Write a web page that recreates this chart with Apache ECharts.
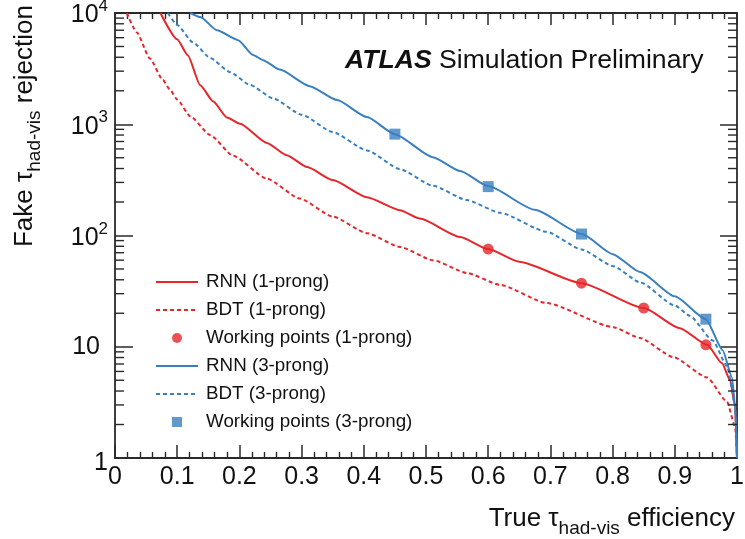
<!DOCTYPE html>
<html><head><meta charset="utf-8">
<script src="https://cdn.jsdelivr.net/npm/echarts/dist/echarts.min.js"></script>
<style>html,body{margin:0;padding:0;background:#fff}#c{width:745px;height:539px}</style>
</head><body><div id="c"></div>
<script>
// ---------------- data ----------------
const xTickLabels = ['0','0.1','0.2','0.3','0.4','0.5','0.6','0.7','0.8','0.9','1'];
const yTickBases = ['1','10','10','10','10'];
const yTickExps  = ['','','2','3','4'];

const effRNN1 = [0.073,0.100,0.117,0.137,0.158,0.180,0.201,0.244,0.276,0.309,0.350,0.405,0.458,0.490,0.555,0.600,0.650,0.750,0.850,0.908,0.952,0.976,0.989,0.997,1.000];
const rejRNN1 = [10000,5800,4170,2240,1600,1150,1010,680,527,412,315,221,169,142,97,75.5,58,37.3,22.3,14.7,10.4,7.1,5.0,2.9,1];

const effBDT1 = [0.019,0.035,0.056,0.077,0.088,0.100,0.121,0.153,0.190,0.244,0.297,0.350,0.405,0.458,0.511,0.566,0.619,0.694,0.801,0.844,0.897,0.952,0.984,0.997,1.000];
const rejBDT1 = [10000,6700,3900,2500,2060,1670,1180,800,520,325,215,148,105,79,60,46,36,24.7,15,12,8.1,5.3,3.2,1.9,1];

const effRNN3 = [0.121,0.137,0.164,0.198,0.222,0.238,0.265,0.313,0.357,0.405,0.450,0.511,0.555,0.600,0.675,0.751,0.800,0.844,0.900,0.950,0.977,0.992,0.997,1.000];
const rejRNN3 = [10000,9200,7000,5700,4200,3770,3100,2200,1650,1160,815,506,380,278,170,103,68,47,28.4,17.7,9.3,5.3,2.9,1];

const effBDT3 = [0.085,0.100,0.125,0.153,0.185,0.217,0.254,0.300,0.350,0.405,0.458,0.511,0.566,0.619,0.694,0.750,0.801,0.844,0.900,0.924,0.961,0.984,0.997,1.000];
const rejBDT3 = [10000,7800,5460,3950,2940,2260,1710,1220,850,582,395,280,208,160,108,75,53,38,23.5,19,11.4,6.7,3.0,1];

const wpEff1 = [0.60,0.75,0.85,0.95];
const wpRej1 = [75.5,37.3,22.3,10.4];
const wpEff3 = [0.45,0.60,0.75,0.95];
const wpRej3 = [815,275,103,17.7];

const seriesNames = ['RNN (1-prong)','BDT (1-prong)','Working points (1-prong)','RNN (3-prong)','BDT (3-prong)','Working points (3-prong)'];

// ---------------- chart ----------------
const RED = '#e5262b', BLUE = '#3a80c0', AX = '#2a2a2a';
const FONT = 'Liberation Sans, Arial, Helvetica, sans-serif';
const zip = (a, b) => a.map((v, i) => [v, b[i]]);

const yMinor = [];
for (let k = 0; k < 4; k++) for (let m = 2; m <= 9; m++) yMinor.push([0, m * Math.pow(10, k)]);

const chart = echarts.init(document.getElementById('c'), null, {renderer: 'canvas'});

const xCommon = {
  type: 'value', min: 0, max: 1, interval: 0.1,
  axisLine: {show: true, onZero: false, lineStyle: {color: AX, width: 1.8}},
  minorTick: {show: true, splitNumber: 5, length: 6, lineStyle: {color: AX, width: 1.4}},
  splitLine: {show: false}, minorSplitLine: {show: false}
};
const yCommon = {
  type: 'log', logBase: 10, min: 1, max: 10000, splitNumber: 4,
  axisLine: {show: true, onZero: false, lineStyle: {color: AX, width: 1.8}},
  splitLine: {show: false}
};

const titleRich = {
  a: {fontSize: 26, lineHeight: 40, verticalAlign: 'top', fontFamily: FONT, fill: '#111', padding: [8, 0, 0, 0]},
  s: {fontSize: 19, lineHeight: 19, verticalAlign: 'bottom', fontFamily: FONT, fill: '#111'}
};

chart.setOption({
  animation: false,
  backgroundColor: '#fff',
  grid: {left: 115, right: 8, top: 13, bottom: 81, containLabel: false, outerBoundsMode: 'none'},
  xAxis: [
    Object.assign({}, xCommon, {
      position: 'bottom',
      axisTick: {show: true, inside: true, length: 13, lineStyle: {color: AX, width: 1.5}},
      axisLabel: {show: true, margin: 7, fontSize: 25, color: '#111', fontFamily: FONT,
        showMinLabel: true, showMaxLabel: true,
        formatter: v => xTickLabels[Math.round(v * 10)]}
    }),
    Object.assign({}, xCommon, {
      position: 'top',
      axisTick: {show: true, inside: true, length: 12, lineStyle: {color: AX, width: 1.5}},
      axisLabel: {show: false}
    })
  ],
  yAxis: [
    Object.assign({}, yCommon, {
      position: 'left',
      axisTick: {show: true, inside: true, length: 18, lineStyle: {color: AX, width: 1.5}},
      axisLabel: {show: true, margin: 7, color: '#111', fontFamily: FONT,
        showMinLabel: true, showMaxLabel: true,
        formatter: v => {
          const i = Math.round(Math.log10(v));
          if (i === 0) return '{one|' + yTickBases[i] + '}';
          if (yTickExps[i] === '') return '{b2|' + yTickBases[i] + '}';
          return '{b|' + yTickBases[i] + '}{e|' + yTickExps[i] + '}';
        },
        rich: {
          b: {fontSize: 25, lineHeight: 30, verticalAlign: 'bottom', color: '#111', fontFamily: FONT},
          b2: {fontSize: 25, lineHeight: 30, color: '#111', fontFamily: FONT, padding: [0, 8, 0, 0]},
          one: {fontSize: 25, lineHeight: 30, color: '#111', fontFamily: FONT, padding: [10, 0, 0, 0]},
          e: {fontSize: 17, lineHeight: 18, verticalAlign: 'top', color: '#111', fontFamily: FONT}
        }
      }
    }),
    Object.assign({}, yCommon, {
      position: 'right',
      axisTick: {show: true, inside: true, length: 17, lineStyle: {color: AX, width: 1.5}},
      axisLabel: {show: false}
    })
  ],
  legend: {
    show: true, orient: 'vertical', left: 150, top: 263,
    itemWidth: 42, itemHeight: 10, itemGap: 0, selectedMode: false,
    textStyle: {fontSize: 18.8, lineHeight: 28, color: '#111', fontFamily: FONT, padding: [0, 0, 0, 3]},
    data: [
      {name: seriesNames[0], itemStyle: {opacity: 0}},
      {name: seriesNames[1], itemStyle: {opacity: 0}},
      {name: seriesNames[2]},
      {name: seriesNames[3], itemStyle: {opacity: 0}},
      {name: seriesNames[4], itemStyle: {opacity: 0}},
      {name: seriesNames[5], icon: 'path://M0,0L10,0L10,10L0,10Z'}
    ]
  },
  series: [
    {name: seriesNames[0], type: 'line', data: zip(effRNN1, rejRNN1), symbol: 'none', smooth: 0.2, smoothMonotone: 'x',
     lineStyle: {color: RED, width: 2}, itemStyle: {color: RED}, z: 3},
    {name: seriesNames[1], type: 'line', data: zip(effBDT1, rejBDT1), symbol: 'none', smooth: 0.2, smoothMonotone: 'x',
     lineStyle: {color: RED, width: 2, type: [4, 3]}, itemStyle: {color: RED}, z: 3},
    {name: seriesNames[2], type: 'scatter', data: zip(wpEff1, wpRej1), symbol: 'circle', symbolSize: 11,
     itemStyle: {color: RED}, z: 5},
    {name: seriesNames[3], type: 'line', data: zip(effRNN3, rejRNN3), symbol: 'none', smooth: 0.2, smoothMonotone: 'x',
     lineStyle: {color: BLUE, width: 2}, itemStyle: {color: BLUE}, z: 3},
    {name: seriesNames[4], type: 'line', data: zip(effBDT3, rejBDT3), symbol: 'none', smooth: 0.2, smoothMonotone: 'x',
     lineStyle: {color: BLUE, width: 2, type: [4, 3]}, itemStyle: {color: BLUE}, z: 3},
    {name: seriesNames[5], type: 'scatter', data: zip(wpEff3, wpRej3), symbol: 'rect', symbolSize: 11,
     itemStyle: {color: BLUE}, z: 5},
    {name: 'yMinorTicks', type: 'custom', data: yMinor, silent: true, clip: false, z: 10,
     encode: {x: 0, y: 1},
     renderItem: (params, api) => {
       const v = api.value(1);
       const pL = api.coord([0, v]);
       const pR = api.coord([1, v]);
       const st = {stroke: AX, lineWidth: 1.4};
       return {type: 'group', children: [
         {type: 'line', shape: {x1: pL[0], y1: pL[1], x2: pL[0] + 9, y2: pL[1]}, style: st},
         {type: 'line', shape: {x1: pR[0] - 9, y1: pR[1], x2: pR[0], y2: pR[1]}, style: st}
       ]};
     }}
  ],
  graphic: [
    {type: 'text', x: 345, y: 61, silent: true,
     style: {text: '{a|ATLAS} {n|Simulation Preliminary}', fill: '#111', font: '26.6px ' + FONT,
       textAlign: 'left', textVerticalAlign: 'middle',
       rich: {a: {fontSize: 26.6, fontWeight: 'bold', fontStyle: 'italic', fontFamily: FONT, fill: '#111'},
              n: {fontSize: 26.6, fontFamily: FONT, fill: '#111'}}}},
    {type: 'text', x: 735, y: 498, silent: true,
     style: {text: '{a|True τ}{s|had-vis}{a| efficiency}', fill: '#111', font: '26px ' + FONT,
       textAlign: 'right', textVerticalAlign: 'top', rich: titleRich}},
    {type: 'text', x: 4, y: 5, rotation: Math.PI / 2, silent: true,
     style: {text: '{a|Fake τ}{s|had-vis}{a| rejection}', fill: '#111', font: '26px ' + FONT,
       textAlign: 'right', textVerticalAlign: 'top', rich: titleRich}}
  ]
});
</script>
</body></html>
